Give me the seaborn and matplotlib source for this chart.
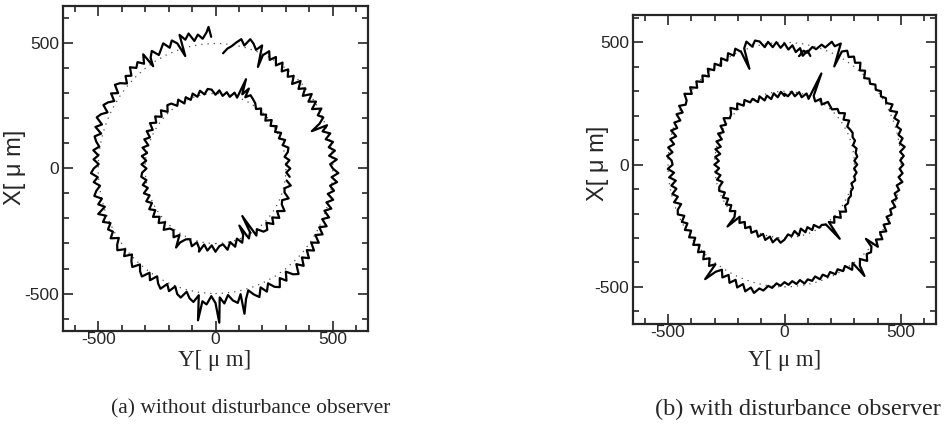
import numpy as np
import pandas as pd
import matplotlib
matplotlib.use("Agg")
import matplotlib.pyplot as plt
from matplotlib.patches import Circle
from matplotlib.ticker import MultipleLocator
import seaborn as sns

# reference circles (dotted), radius in um
ref_radii = [500, 300]

# (a) without disturbance observer
# radius [um] every `step` degrees from `start`
a_outer_start, a_outer_step = 92, 2
a_outer_r = [527, 546, 522, 541, 518, 552, 531, 556, 526, 545,
             521, 548, 530, 514, 543, 522, 551, 518, 540, 525,
             545, 516, 533, 508, 531, 544, 513, 537, 509, 529,
             541, 512, 534, 546, 515, 538, 507, 531, 520, 503,
             526, 502, 521, 498, 519, 531, 503, 522, 497, 516,
             528, 499, 520, 496, 532, 504, 525, 498, 519, 505,
             527, 497, 518, 531, 502, 524, 495, 516, 530, 501,
             522, 534, 503, 527, 498, 521, 535, 506, 529, 502,
             528, 537, 508, 531, 542, 512, 534, 545, 511, 538,
             516, 541, 509, 533, 546, 514, 538, 507, 530, 547,
             513, 539, 511, 536, 548, 517, 541, 510, 537, 551,
             515, 541, 512, 536, 508, 533, 504, 531, 502, 527,
             501, 527, 498, 522, 494, 519, 492, 517, 489, 513,
             493, 521, 496, 524, 500, 489, 518, 487, 514, 490,
             512, 484, 509, 480, 506, 478, 503, 485, 511, 475,
             505, 478, 507, 472, 499, 476, 504, 470, 498, 479,
             503, 480, 511, 486, 515, 492, 522, 496, 531, 505,
             525, 538, 507, 529, 512, 494, 482, 462]
a_outer_spike_deg = [93, 106, 123, 263, 271.5, 282, 380, 426]
a_outer_spike_r = [567, 468, 488, 612, 617, 594, 437, 445]

a_inner_start, a_inner_step = -6, 3
a_inner_r = [318, 302, 319, 300, 317, 298, 315, 322, 301, 318,
             296, 314, 293, 311, 290, 308, 286, 305, 290, 309,
             294, 311, 320, 329, 312, 318, 298, 314, 293, 309,
             292, 313, 295, 316, 320, 300, 318, 297, 315, 294,
             312, 292, 318, 299, 321, 326, 305, 329, 309, 331,
             312, 333, 309, 329, 306, 325, 301, 322, 298, 318,
             297, 316, 294, 313, 318, 298, 317, 299, 321, 301,
             323, 304, 326, 306, 329, 307, 326, 304, 330, 309,
             305, 328, 307, 332, 310, 303, 327, 306, 329, 308,
             330, 308, 333, 311, 305, 329, 301, 324, 295, 318,
             290, 314, 294, 320, 300, 325, 330, 307, 332, 311,
             336, 313, 340, 317, 311, 334, 309, 305, 328, 307]
a_inner_spike_deg = [66, 70, 242, 258, 294, 301]
a_inner_spike_r = [350, 380, 358, 340, 250, 222]

# (b) with disturbance observer
b_outer_start, b_outer_step = 76, 2
b_outer_r = [458, 476, 452, 481, 463, 489, 471, 496, 478, 502,
             483, 507, 488, 515, 523, 502, 529, 506, 498, 519,
             496, 516, 491, 513, 487, 510, 490, 512, 485, 507,
             487, 509, 489, 514, 492, 518, 495, 490, 512, 486,
             507, 482, 503, 484, 506, 479, 501, 481, 504, 483,
             505, 485, 480, 501, 475, 497, 471, 493, 474, 496,
             476, 498, 472, 494, 501, 478, 499, 481, 504, 483,
             506, 486, 511, 490, 516, 495, 521, 500, 526, 504,
             529, 507, 533, 511, 538, 516, 542, 520, 545, 523,
             541, 518, 523, 501, 507, 487, 496, 481, 492, 478,
             491, 477, 494, 480, 490, 476, 493, 479, 495, 481,
             499, 485, 503, 489, 519, 497, 525, 504, 530, 508,
             516, 502, 523, 498, 519, 494, 515, 491, 512, 487,
             503, 489, 506, 485, 501, 487, 503, 489, 511, 492,
             508, 494, 510, 497, 513, 499, 521, 502, 518, 504,
             520, 506, 522, 508, 529, 503, 525, 504, 513, 499,
             511, 497, 509, 494, 506, 492, 517, 503, 529, 515,
             533, 519, 538, 524, 551, 530, 542, 510, 516, 491,
             496, 469, 473, 448]
b_outer_spike_deg = [111, 234, 307, 319, 422]
b_outer_spike_r = [420, 579, 570, 463, 455]

b_inner_start, b_inner_step = 90, 3
b_inner_r = [281, 298, 277, 295, 274, 292, 276, 299, 280, 302,
             294, 315, 298, 322, 304, 328, 308, 302, 323, 299,
             317, 293, 312, 288, 307, 283, 303, 279, 299, 282,
             301, 281, 298, 278, 296, 275, 294, 300, 280, 297,
             279, 299, 282, 302, 284, 304, 287, 307, 290, 310,
             293, 313, 296, 316, 298, 319, 301, 322, 303, 320,
             307, 286, 294, 275, 296, 271, 291, 274, 293, 277,
             298, 294, 303, 302, 320, 301, 325, 306, 327, 309,
             315, 308, 312, 305, 309, 297, 310, 303, 311, 299,
             312, 300, 314, 309, 316, 304, 318, 313, 320, 316,
             311, 331, 313, 334, 315, 322, 304, 310, 317, 293,
             311, 290, 308, 288, 306, 285, 303, 283, 300, 280,
             290]
b_inner_spike_deg = [226, 308, 427]
b_inner_spike_r = [352, 385, 405]

captions = ["(a) without disturbance observer", "(b) with disturbance observer"]


def trace(radii, start, step, spike_deg, spike_r):
    deg = np.concatenate([start + step * np.arange(len(radii)), spike_deg])
    r = np.concatenate([np.asarray(radii, float), np.asarray(spike_r, float)])
    order = np.argsort(deg, kind="stable")
    th, r = np.deg2rad(deg[order]), r[order]
    # horizontal axis is Y, vertical axis is X
    return pd.DataFrame({"Y": r * np.cos(th), "X": r * np.sin(th)})


sns.set_style("ticks")
plt.rcParams["font.family"] = ["Liberation Serif", "DejaVu Serif"]
plt.rcParams["axes.unicode_minus"] = False

fig = plt.figure(figsize=(9.5, 4.4), dpi=100)
ax_a = fig.add_axes([63 / 950, 109 / 440, 305 / 950, 325 / 440])
ax_b = fig.add_axes([633 / 950, 116 / 440, 303 / 950, 309 / 440])

panels = [
    (ax_a, [(a_outer_r, a_outer_start, a_outer_step, a_outer_spike_deg, a_outer_spike_r),
            (a_inner_r, a_inner_start, a_inner_step, a_inner_spike_deg, a_inner_spike_r)],
     (-650, 650), (-650, 650)),
    (ax_b, [(b_outer_r, b_outer_start, b_outer_step, b_outer_spike_deg, b_outer_spike_r),
            (b_inner_r, b_inner_start, b_inner_step, b_inner_spike_deg, b_inner_spike_r)],
     (-650, 650), (-652, 612)),
]

for ax, traces, xlim, ylim in panels:
    for rr in ref_radii:
        ax.add_patch(Circle((0, 0), rr, fill=False, ls=(0, (1, 4)), lw=0.9, color="0.3"))
    for radii, start, step, sd, sr in traces:
        df = trace(radii, start, step, sd, sr)
        sns.lineplot(data=df, x="Y", y="X", sort=False, estimator=None,
                     color="black", lw=1.6, ax=ax)
    ax.set_xlim(*xlim)
    ax.set_ylim(*ylim)
    ax.set_xticks([-500, 0, 500])
    ax.set_yticks([-500, 0, 500])
    ax.xaxis.set_minor_locator(MultipleLocator(100))
    ax.yaxis.set_minor_locator(MultipleLocator(100))
    ax.tick_params(which="both", direction="in", top=True, right=True, width=1.2)
    ax.tick_params(which="major", length=7, labelsize=12.5)
    ax.tick_params(axis="x", which="major", pad=1)
    ax.tick_params(axis="y", which="major", pad=3)
    ax.tick_params(which="minor", length=4)
    for lab in ax.get_xticklabels() + ax.get_yticklabels():
        lab.set_family(["Liberation Sans", "DejaVu Sans"])
    for sp in ax.spines.values():
        sp.set_linewidth(1.6)
    ax.set_xlabel("")
    ax.set_ylabel("")

# axis labels and captions
fig.text(15 / 950, 1 - 167 / 440, "X[ μ m]", rotation=90, ha="center", va="center",
         fontsize=17, family=["Liberation Sans", "DejaVu Sans"])
fig.text(598 / 950, 1 - 163 / 440, "X[ μ m]", rotation=90, ha="center", va="center",
         fontsize=17, family=["Liberation Sans", "DejaVu Sans"])
fig.text(215 / 950, 1 - 360 / 440, "Y[ μ m]", ha="center", va="center", fontsize=16.5)
fig.text(785 / 950, 1 - 360 / 440, "Y[ μ m]", ha="center", va="center", fontsize=16.5)
fig.text(251 / 950, 1 - 409 / 440, captions[0], ha="center", va="center", fontsize=15.5)
fig.text(798 / 950, 1 - 409 / 440, captions[1], ha="center", va="center", fontsize=17.5)

fig.savefig("out.png", dpi=100)
